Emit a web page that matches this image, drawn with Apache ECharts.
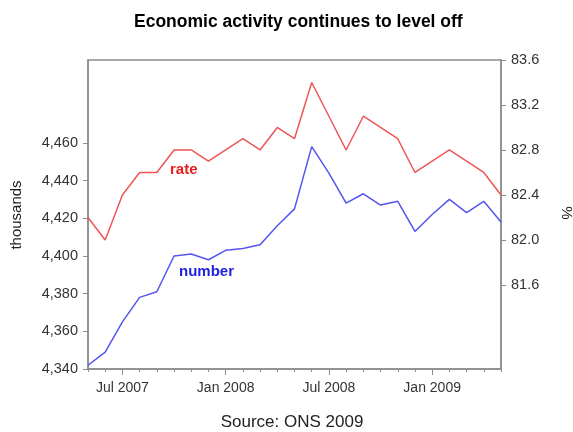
<!DOCTYPE html>
<html>
<head>
<meta charset="utf-8">
<script src="https://cdn.jsdelivr.net/npm/echarts@6/dist/echarts.min.js"></script>
<style>
html,body{margin:0;padding:0;background:#fff;}
#chart{width:573px;height:432px;}
</style>
</head>
<body>
<div id="chart"></div>
<script>
const months = ['May 2007','Jun 2007','Jul 2007','Aug 2007','Sep 2007','Oct 2007','Nov 2007','Dec 2007',
  'Jan 2008','Feb 2008','Mar 2008','Apr 2008','May 2008','Jun 2008','Jul 2008','Aug 2008','Sep 2008',
  'Oct 2008','Nov 2008','Dec 2008','Jan 2009','Feb 2009','Mar 2009','Apr 2009','May 2009'];
const rateValues = [82.2,82.0,82.4,82.6,82.6,82.8,82.8,82.7,82.8,82.9,82.8,83.0,82.9,83.4,83.1,82.8,83.1,83.0,82.9,82.6,82.7,82.8,82.7,82.6,82.4];
const numberValues = [4342,4349,4365,4378,4381,4400,4401,4398,4403,4404,4406,4416,4425,4458,4444,4428,4433,4427,4429,4413,4422,4430,4423,4429,4418];
const leftTicks = [4340,4360,4380,4400,4420,4440,4460];
const rightTicks = [81.6,82.0,82.4,82.8,83.2,83.6];
const xLabels = ['Jul 2007','Jan 2008','Jul 2008','Jan 2009'];

const chart = echarts.init(document.getElementById('chart'));
const font = 'Liberation Sans, Arial, sans-serif';
const axisGray = '#8c8c8c';
const isMajor = (i) => xLabels.indexOf(months[i]) >= 0;

chart.setOption({
  animation: false,
  backgroundColor: '#fff',
  title: {
    text: 'Economic activity continues to level off',
    left: 129, top: 8,
    textStyle: {fontFamily: font, fontSize: 17.5, fontWeight: 'bold', color: '#000'}
  },
  grid: {left: 88, right: 72, top: 60, bottom: 63, show: true, borderColor: axisGray, borderWidth: 1.5},
  xAxis: [{
    type: 'category', data: months, boundaryGap: false,
    axisLine: {lineStyle: {color: axisGray, width: 1.5}},
    axisTick: {show: true, interval: 0, length: 3, lineStyle: {color: axisGray}},
    axisLabel: {show: false}
  }, {
    type: 'category', data: months, boundaryGap: false, position: 'bottom',
    axisLine: {show: false},
    axisTick: {show: true, interval: (i) => isMajor(i), length: 6, lineStyle: {color: axisGray}},
    axisLabel: {interval: (i) => isMajor(i), margin: 12, fontFamily: font, fontSize: 14, color: '#333'}
  }],
  yAxis: [{
    type: 'value', position: 'left', min: 4340, max: 4504,
    splitLine: {show: false},
    axisLine: {show: true, lineStyle: {color: axisGray, width: 1.5}},
    axisTick: {show: true, length: 5, customValues: leftTicks, lineStyle: {color: axisGray}},
    axisLabel: {customValues: leftTicks, margin: 10, fontFamily: font, fontSize: 14.5, color: '#333',
      formatter: (v) => v.toLocaleString('en-US')}
  }, {
    type: 'value', position: 'right', min: 80.853, max: 83.6,
    splitLine: {show: false},
    axisLine: {show: true, lineStyle: {color: axisGray, width: 1.5}},
    axisTick: {show: true, length: 5, customValues: rightTicks, lineStyle: {color: axisGray}},
    axisLabel: {customValues: rightTicks, margin: 10, fontFamily: font, fontSize: 14.5, color: '#333',
      formatter: (v) => v.toFixed(1)}
  }],
  series: [{
    name: 'rate', type: 'line', yAxisIndex: 1, data: rateValues, symbol: 'none',
    lineStyle: {color: '#ee5555', width: 1.5}
  }, {
    name: 'number', type: 'line', yAxisIndex: 0, data: numberValues, symbol: 'none',
    lineStyle: {color: '#5555ee', width: 1.5}
  }],
  graphic: [
    {type: 'text', x: 170, y: 170, style: {text: 'rate', fill: '#e81e1e', font: 'bold 15px ' + font, verticalAlign: 'middle'}},
    {type: 'text', x: 179, y: 272, style: {text: 'number', fill: '#2020e0', font: 'bold 15px ' + font, verticalAlign: 'middle'}},
    {type: 'text', x: 17, y: 215, rotation: Math.PI / 2,
      style: {text: 'thousands', fill: '#222', font: '15px ' + font, align: 'center', verticalAlign: 'middle'}},
    {type: 'text', x: 566, y: 213, rotation: -Math.PI / 2,
      style: {text: '%', fill: '#222', font: '15px ' + font, align: 'center', verticalAlign: 'middle'}},
    {type: 'text', x: 292, y: 422,
      style: {text: 'Source: ONS 2009', fill: '#222', font: '17px ' + font, align: 'center', verticalAlign: 'middle'}}
  ]
});
</script>
</body>
</html>
